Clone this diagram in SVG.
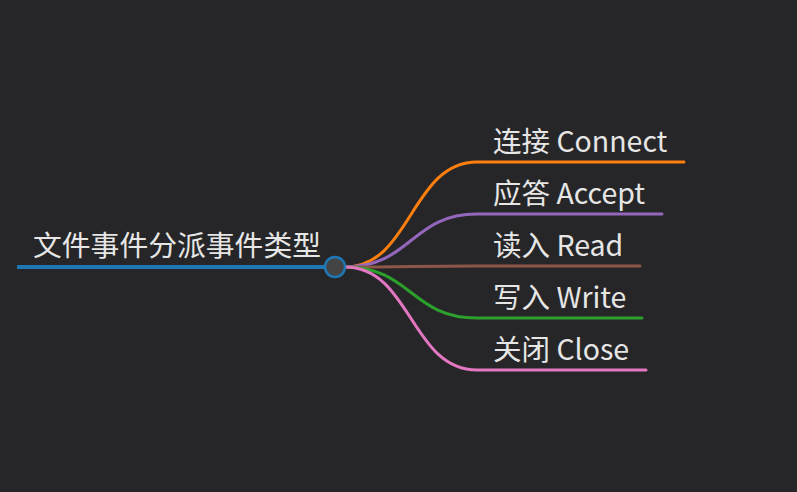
<svg xmlns="http://www.w3.org/2000/svg" width="797" height="492" viewBox="0 0 797 492">
<style>
.lbl{font-family:"Noto Sans CJK SC","Noto Sans",sans-serif;font-size:28.5px;fill:#e6e6e6}
.edge{fill:none;stroke-width:3;stroke-linecap:round}
</style>
<rect width="797" height="492" fill="#262628"/>
<g id="connectors">
<path class="edge" stroke="#ff7f0e" d="M345,267 C411,267 411,162 477,162 L684,162"/>
<path class="edge" stroke="#9467bd" d="M345,267 C411,267 411,214 477,214 L662,214"/>
<path class="edge" stroke="#8c564b" d="M345,267 C411,267 411,266 477,266 L640,266"/>
<path class="edge" stroke="#2ca02c" d="M345,267 C411,267 411,318 477,318 L642,318"/>
<path class="edge" stroke="#e377c2" d="M345,267 C411,267 411,370 477,370 L646,370"/>
</g>
<g id="root">
<line x1="17" y1="267" x2="330" y2="267" stroke="#1f77b4" stroke-width="4"/>
<text class="lbl" x="33" y="256" style="font-size:28.8px">文件事件分派事件类型</text>
<circle cx="335" cy="267" r="10" fill="#444444" stroke="#1f77b4" stroke-width="2.5"/>
</g>
<g id="n-connect"><text class="lbl" x="493" y="152">连接 Connect</text></g>
<g id="n-accept"><text class="lbl" x="493" y="204">应答 Accept</text></g>
<g id="n-read"><text class="lbl" x="493" y="256">读入 Read</text></g>
<g id="n-write"><text class="lbl" x="493" y="308">写入 Write</text></g>
<g id="n-close"><text class="lbl" x="493" y="360">关闭 Close</text></g>
</svg>
